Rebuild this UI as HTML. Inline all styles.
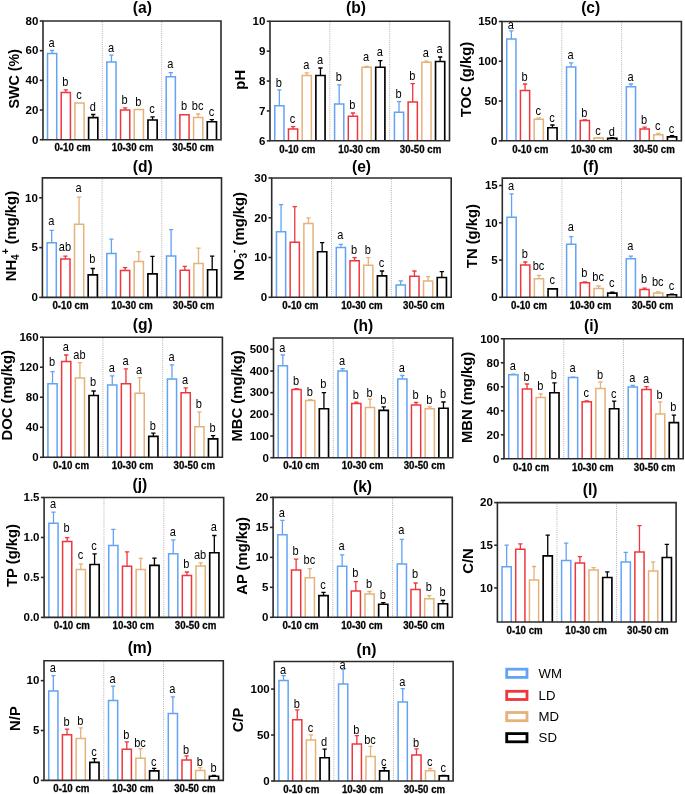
<!DOCTYPE html>
<html><head><meta charset="utf-8"><style>
html,body{margin:0;padding:0;background:#fff;}
svg{display:block;will-change:transform;}
text{font-family:"Liberation Sans",sans-serif;fill:#000;}
.let{font-size:12px;text-anchor:middle;}
.tk{font-size:11.5px;font-weight:bold;text-anchor:end;}
.xl{font-size:9.7px;font-weight:bold;text-anchor:middle;stroke:#000;stroke-width:0.25px;}
.ti{font-size:15.6px;font-weight:bold;text-anchor:middle;}
.yl{font-size:14.8px;font-weight:bold;text-anchor:middle;}
.lg{font-size:13.2px;}
.ax{stroke:#2b2b2b;stroke-width:1.6;fill:none;stroke-linecap:square;}
.sep{stroke:#9a9a9a;stroke-width:0.8;stroke-dasharray:1 1.2;}
</style></head><body>
<svg width="685" height="794" viewBox="0 0 685 794">
<rect width="685" height="794" fill="#fff"/>
<line x1="102.33" y1="22" x2="102.33" y2="138.7" class="sep"/>
<line x1="161.67" y1="22" x2="161.67" y2="138.7" class="sep"/>
<path d="M52.12 53.4V50.5M49.97 50.5H54.27" stroke="#62A3F5" stroke-width="1.3" fill="none"/>
<path d="M47.52 139.7V53.4H56.72V139.7" stroke="#62A3F5" stroke-width="1.5" fill="#fff"/>
<text transform="translate(51.62 46.9) scale(0.92 1)" class="let">a</text>
<path d="M65.82 92.6V89.8M63.67 89.8H67.97" stroke="#EE373C" stroke-width="1.3" fill="none"/>
<path d="M61.22 139.7V92.6H70.42V139.7" stroke="#EE373C" stroke-width="1.5" fill="#fff"/>
<text transform="translate(65.32 86.2) scale(0.92 1)" class="let">b</text>
<path d="M74.92 139.7V102.9H84.12V139.7" stroke="#E5B27A" stroke-width="1.5" fill="#fff"/>
<text transform="translate(79.02 99.3) scale(0.92 1)" class="let">c</text>
<path d="M93.22 117.6V114.5M91.07 114.5H95.37" stroke="#000000" stroke-width="1.3" fill="none"/>
<path d="M88.62 139.7V117.6H97.82V139.7" stroke="#000000" stroke-width="1.65" fill="#fff"/>
<text transform="translate(92.72 111.2) scale(0.92 1)" class="let">d</text>
<path d="M111.45 61.9V55.1M109.3 55.1H113.6" stroke="#62A3F5" stroke-width="1.3" fill="none"/>
<path d="M106.85 139.7V61.9H116.05V139.7" stroke="#62A3F5" stroke-width="1.5" fill="#fff"/>
<text transform="translate(110.95 51.8) scale(0.92 1)" class="let">a</text>
<path d="M125.15 109.9V107.8M123 107.8H127.3" stroke="#EE373C" stroke-width="1.3" fill="none"/>
<path d="M120.55 139.7V109.9H129.75V139.7" stroke="#EE373C" stroke-width="1.5" fill="#fff"/>
<text transform="translate(124.65 103.9) scale(0.92 1)" class="let">b</text>
<path d="M134.25 139.7V109.4H143.45V139.7" stroke="#E5B27A" stroke-width="1.5" fill="#fff"/>
<text transform="translate(138.35 105.8) scale(0.92 1)" class="let">b</text>
<path d="M152.55 120V116.8M150.4 116.8H154.7" stroke="#000000" stroke-width="1.3" fill="none"/>
<path d="M147.95 139.7V120H157.15V139.7" stroke="#000000" stroke-width="1.65" fill="#fff"/>
<text transform="translate(152.05 113.2) scale(0.92 1)" class="let">c</text>
<path d="M170.78 76.7V72.6M168.63 72.6H172.93" stroke="#62A3F5" stroke-width="1.3" fill="none"/>
<path d="M166.18 139.7V76.7H175.38V139.7" stroke="#62A3F5" stroke-width="1.5" fill="#fff"/>
<text transform="translate(170.28 67.5) scale(0.92 1)" class="let">a</text>
<path d="M179.88 139.7V114.8H189.08V139.7" stroke="#EE373C" stroke-width="1.5" fill="#fff"/>
<text transform="translate(183.98 110.4) scale(0.92 1)" class="let">b</text>
<path d="M198.18 117.6V114M196.03 114H200.33" stroke="#E5B27A" stroke-width="1.3" fill="none"/>
<path d="M193.58 139.7V117.6H202.78V139.7" stroke="#E5B27A" stroke-width="1.5" fill="#fff"/>
<text transform="translate(197.68 110.4) scale(0.92 1)" class="let">bc</text>
<path d="M211.88 121.7V119.6M209.73 119.6H214.03" stroke="#000000" stroke-width="1.3" fill="none"/>
<path d="M207.28 139.7V121.7H216.48V139.7" stroke="#000000" stroke-width="1.65" fill="#fff"/>
<text transform="translate(211.38 116.2) scale(0.92 1)" class="let">c</text>
<path d="M43 21H221V139.7H43Z" class="ax"/>
<line x1="39.8" y1="139.7" x2="43" y2="139.7" class="ax" style="stroke-linecap:butt"/>
<text x="38.4" y="143.5" class="tk">0</text>
<line x1="39.8" y1="110.02" x2="43" y2="110.02" class="ax" style="stroke-linecap:butt"/>
<text x="38.4" y="113.82" class="tk">20</text>
<line x1="39.8" y1="80.35" x2="43" y2="80.35" class="ax" style="stroke-linecap:butt"/>
<text x="38.4" y="84.15" class="tk">40</text>
<line x1="39.8" y1="50.67" x2="43" y2="50.67" class="ax" style="stroke-linecap:butt"/>
<text x="38.4" y="54.47" class="tk">60</text>
<line x1="39.8" y1="21" x2="43" y2="21" class="ax" style="stroke-linecap:butt"/>
<text x="38.4" y="24.8" class="tk">80</text>
<text transform="translate(72.5 151.4) scale(1 1.05)" class="xl">0-10 cm</text>
<text transform="translate(132.5 151.4) scale(1 1.05)" class="xl">10-30 cm</text>
<text transform="translate(193 151.4) scale(1 1.05)" class="xl">30-50 cm</text>
<text x="142.3" y="12.7" class="ti">(a)</text>
<text transform="translate(19.05 78.8) rotate(-90)" x="0" y="0" class="yl" style="font-size:14.3px">SWC (%)</text>
<line x1="329.83" y1="22.3" x2="329.83" y2="139.8" class="sep"/>
<line x1="389.67" y1="22.3" x2="389.67" y2="139.8" class="sep"/>
<path d="M279.37 105.8V89.8M277.22 89.8H281.52" stroke="#62A3F5" stroke-width="1.3" fill="none"/>
<path d="M274.77 140.8V105.8H283.97V140.8" stroke="#62A3F5" stroke-width="1.5" fill="#fff"/>
<text transform="translate(278.87 86.7) scale(0.92 1)" class="let">b</text>
<path d="M293.07 129V126.6M290.92 126.6H295.22" stroke="#EE373C" stroke-width="1.3" fill="none"/>
<path d="M288.47 140.8V129H297.67V140.8" stroke="#EE373C" stroke-width="1.5" fill="#fff"/>
<text transform="translate(292.57 122.7) scale(0.92 1)" class="let">c</text>
<path d="M306.77 75.5V72.9M304.62 72.9H308.92" stroke="#E5B27A" stroke-width="1.3" fill="none"/>
<path d="M302.17 140.8V75.5H311.37V140.8" stroke="#E5B27A" stroke-width="1.5" fill="#fff"/>
<text transform="translate(306.27 69.2) scale(0.92 1)" class="let">a</text>
<path d="M320.47 75.5V68M318.32 68H322.62" stroke="#000000" stroke-width="1.3" fill="none"/>
<path d="M315.87 140.8V75.5H325.07V140.8" stroke="#000000" stroke-width="1.65" fill="#fff"/>
<text transform="translate(319.97 64.3) scale(0.92 1)" class="let">a</text>
<path d="M339.2 104V84.9M337.05 84.9H341.35" stroke="#62A3F5" stroke-width="1.3" fill="none"/>
<path d="M334.6 140.8V104H343.8V140.8" stroke="#62A3F5" stroke-width="1.5" fill="#fff"/>
<text transform="translate(338.7 81) scale(0.92 1)" class="let">b</text>
<path d="M352.9 116.3V113M350.75 113H355.05" stroke="#EE373C" stroke-width="1.3" fill="none"/>
<path d="M348.3 140.8V116.3H357.5V140.8" stroke="#EE373C" stroke-width="1.5" fill="#fff"/>
<text transform="translate(352.4 108.8) scale(0.92 1)" class="let">b</text>
<path d="M366.6 67.2V66.5M364.45 66.5H368.75" stroke="#E5B27A" stroke-width="1.3" fill="none"/>
<path d="M362 140.8V67.2H371.2V140.8" stroke="#E5B27A" stroke-width="1.5" fill="#fff"/>
<text transform="translate(366.1 61.3) scale(0.92 1)" class="let">a</text>
<path d="M380.3 67.2V60.6M378.15 60.6H382.45" stroke="#000000" stroke-width="1.3" fill="none"/>
<path d="M375.7 140.8V67.2H384.9V140.8" stroke="#000000" stroke-width="1.65" fill="#fff"/>
<text transform="translate(379.8 56.4) scale(0.92 1)" class="let">a</text>
<path d="M399.03 112.2V101.7M396.88 101.7H401.18" stroke="#62A3F5" stroke-width="1.3" fill="none"/>
<path d="M394.43 140.8V112.2H403.63V140.8" stroke="#62A3F5" stroke-width="1.5" fill="#fff"/>
<text transform="translate(398.53 97.8) scale(0.92 1)" class="let">b</text>
<path d="M412.73 102V83.7M410.58 83.7H414.88" stroke="#EE373C" stroke-width="1.3" fill="none"/>
<path d="M408.13 140.8V102H417.33V140.8" stroke="#EE373C" stroke-width="1.5" fill="#fff"/>
<text transform="translate(412.23 79.8) scale(0.92 1)" class="let">b</text>
<path d="M426.43 62.3V61.1M424.28 61.1H428.58" stroke="#E5B27A" stroke-width="1.3" fill="none"/>
<path d="M421.83 140.8V62.3H431.03V140.8" stroke="#E5B27A" stroke-width="1.5" fill="#fff"/>
<text transform="translate(425.93 56.9) scale(0.92 1)" class="let">a</text>
<path d="M440.13 61.5V57M437.98 57H442.28" stroke="#000000" stroke-width="1.3" fill="none"/>
<path d="M435.53 140.8V61.5H444.73V140.8" stroke="#000000" stroke-width="1.65" fill="#fff"/>
<text transform="translate(439.63 52.8) scale(0.92 1)" class="let">a</text>
<path d="M270 21.3H449.5V140.8H270Z" class="ax"/>
<line x1="266.8" y1="140.8" x2="270" y2="140.8" class="ax" style="stroke-linecap:butt"/>
<text x="265.4" y="144.6" class="tk">6</text>
<line x1="266.8" y1="110.93" x2="270" y2="110.93" class="ax" style="stroke-linecap:butt"/>
<text x="265.4" y="114.73" class="tk">7</text>
<line x1="266.8" y1="81.05" x2="270" y2="81.05" class="ax" style="stroke-linecap:butt"/>
<text x="265.4" y="84.85" class="tk">8</text>
<line x1="266.8" y1="51.17" x2="270" y2="51.17" class="ax" style="stroke-linecap:butt"/>
<text x="265.4" y="54.97" class="tk">9</text>
<line x1="266.8" y1="21.3" x2="270" y2="21.3" class="ax" style="stroke-linecap:butt"/>
<text x="265.4" y="25.1" class="tk">10</text>
<text transform="translate(297.4 152.5) scale(1 1.05)" class="xl">0-10 cm</text>
<text transform="translate(359.1 152.5) scale(1 1.05)" class="xl">10-30 cm</text>
<text transform="translate(420.6 152.5) scale(1 1.05)" class="xl">30-50 cm</text>
<text x="355.9" y="12.7" class="ti">(b)</text>
<text transform="translate(244.9 79.77) rotate(-90)" x="0" y="0" class="yl">pH</text>
<line x1="561.8" y1="22.5" x2="561.8" y2="139.8" class="sep"/>
<line x1="621.6" y1="22.5" x2="621.6" y2="139.8" class="sep"/>
<path d="M511.35 38.9V30.8M509.2 30.8H513.5" stroke="#62A3F5" stroke-width="1.3" fill="none"/>
<path d="M506.75 140.8V38.9H515.95V140.8" stroke="#62A3F5" stroke-width="1.5" fill="#fff"/>
<text transform="translate(510.85 29) scale(0.92 1)" class="let">a</text>
<path d="M525.05 90.6V84M522.9 84H527.2" stroke="#EE373C" stroke-width="1.3" fill="none"/>
<path d="M520.45 140.8V90.6H529.65V140.8" stroke="#EE373C" stroke-width="1.5" fill="#fff"/>
<text transform="translate(524.55 81) scale(0.92 1)" class="let">b</text>
<path d="M538.75 119.2V117.9M536.6 117.9H540.9" stroke="#E5B27A" stroke-width="1.3" fill="none"/>
<path d="M534.15 140.8V119.2H543.35V140.8" stroke="#E5B27A" stroke-width="1.5" fill="#fff"/>
<text transform="translate(538.25 114.8) scale(0.92 1)" class="let">c</text>
<path d="M552.45 127.7V125M550.3 125H554.6" stroke="#000000" stroke-width="1.3" fill="none"/>
<path d="M547.85 140.8V127.7H557.05V140.8" stroke="#000000" stroke-width="1.65" fill="#fff"/>
<text transform="translate(551.95 121.6) scale(0.92 1)" class="let">c</text>
<path d="M571.15 66.9V62.8M569 62.8H573.3" stroke="#62A3F5" stroke-width="1.3" fill="none"/>
<path d="M566.55 140.8V66.9H575.75V140.8" stroke="#62A3F5" stroke-width="1.5" fill="#fff"/>
<text transform="translate(570.65 58.9) scale(0.92 1)" class="let">a</text>
<path d="M584.85 120.5V120M582.7 120H587" stroke="#EE373C" stroke-width="1.3" fill="none"/>
<path d="M580.25 140.8V120.5H589.45V140.8" stroke="#EE373C" stroke-width="1.5" fill="#fff"/>
<text transform="translate(584.35 116.6) scale(0.92 1)" class="let">b</text>
<path d="M598.55 138V137.6M596.4 137.6H600.7" stroke="#E5B27A" stroke-width="1.3" fill="none"/>
<path d="M593.95 140.8V138H603.15V140.8" stroke="#E5B27A" stroke-width="1.5" fill="#fff"/>
<text transform="translate(598.05 134.5) scale(0.92 1)" class="let">c</text>
<path d="M612.25 138.4V137.7M610.1 137.7H614.4" stroke="#000000" stroke-width="1.3" fill="none"/>
<path d="M607.65 140.8V138.4H616.85V140.8" stroke="#000000" stroke-width="1.65" fill="#fff"/>
<text transform="translate(611.75 135.5) scale(0.92 1)" class="let">d</text>
<path d="M630.95 86.8V84M628.8 84H633.1" stroke="#62A3F5" stroke-width="1.3" fill="none"/>
<path d="M626.35 140.8V86.8H635.55V140.8" stroke="#62A3F5" stroke-width="1.5" fill="#fff"/>
<text transform="translate(630.45 81) scale(0.92 1)" class="let">a</text>
<path d="M644.65 129V127.1M642.5 127.1H646.8" stroke="#EE373C" stroke-width="1.3" fill="none"/>
<path d="M640.05 140.8V129H649.25V140.8" stroke="#EE373C" stroke-width="1.5" fill="#fff"/>
<text transform="translate(644.15 123.5) scale(0.92 1)" class="let">b</text>
<path d="M658.35 134.8V133.5M656.2 133.5H660.5" stroke="#E5B27A" stroke-width="1.3" fill="none"/>
<path d="M653.75 140.8V134.8H662.95V140.8" stroke="#E5B27A" stroke-width="1.5" fill="#fff"/>
<text transform="translate(657.85 130.1) scale(0.92 1)" class="let">c</text>
<path d="M672.05 136.9V135.7M669.9 135.7H674.2" stroke="#000000" stroke-width="1.3" fill="none"/>
<path d="M667.45 140.8V136.9H676.65V140.8" stroke="#000000" stroke-width="1.65" fill="#fff"/>
<text transform="translate(671.55 132.5) scale(0.92 1)" class="let">c</text>
<path d="M502 21.5H681.4V140.8H502Z" class="ax"/>
<line x1="498.8" y1="140.8" x2="502" y2="140.8" class="ax" style="stroke-linecap:butt"/>
<text x="497.4" y="144.6" class="tk">0</text>
<line x1="498.8" y1="101.03" x2="502" y2="101.03" class="ax" style="stroke-linecap:butt"/>
<text x="497.4" y="104.83" class="tk">50</text>
<line x1="498.8" y1="61.27" x2="502" y2="61.27" class="ax" style="stroke-linecap:butt"/>
<text x="497.4" y="65.07" class="tk">100</text>
<line x1="498.8" y1="21.5" x2="502" y2="21.5" class="ax" style="stroke-linecap:butt"/>
<text x="497.4" y="25.3" class="tk">150</text>
<text transform="translate(530.3 152.5) scale(1 1.05)" class="xl">0-10 cm</text>
<text transform="translate(591.7 152.5) scale(1 1.05)" class="xl">10-30 cm</text>
<text transform="translate(654 152.5) scale(1 1.05)" class="xl">30-50 cm</text>
<text x="590.7" y="12.7" class="ti">(c)</text>
<text transform="translate(470.6 79.5) rotate(-90)" x="0" y="0" class="yl">TOC (g/kg)</text>
<line x1="102.1" y1="178.9" x2="102.1" y2="296.4" class="sep"/>
<line x1="161.8" y1="178.9" x2="161.8" y2="296.4" class="sep"/>
<path d="M51.7 242.7V230.4M49.55 230.4H53.85" stroke="#62A3F5" stroke-width="1.3" fill="none"/>
<path d="M47.1 297.4V242.7H56.3V297.4" stroke="#62A3F5" stroke-width="1.5" fill="#fff"/>
<text transform="translate(51.2 224.5) scale(0.92 1)" class="let">a</text>
<path d="M65.4 259V256.1M63.25 256.1H67.55" stroke="#EE373C" stroke-width="1.3" fill="none"/>
<path d="M60.8 297.4V259H70V297.4" stroke="#EE373C" stroke-width="1.5" fill="#fff"/>
<text transform="translate(64.9 250.7) scale(0.92 1)" class="let">ab</text>
<path d="M79.1 224.3V197.2M76.95 197.2H81.25" stroke="#E5B27A" stroke-width="1.3" fill="none"/>
<path d="M74.5 297.4V224.3H83.7V297.4" stroke="#E5B27A" stroke-width="1.5" fill="#fff"/>
<text transform="translate(78.6 191.6) scale(0.92 1)" class="let">a</text>
<path d="M92.8 274.9V268.5M90.65 268.5H94.95" stroke="#000000" stroke-width="1.3" fill="none"/>
<path d="M88.2 297.4V274.9H97.4V297.4" stroke="#000000" stroke-width="1.65" fill="#fff"/>
<text transform="translate(92.3 263.3) scale(0.92 1)" class="let">b</text>
<path d="M111.4 253.6V239.1M109.25 239.1H113.55" stroke="#62A3F5" stroke-width="1.3" fill="none"/>
<path d="M106.8 297.4V253.6H116V297.4" stroke="#62A3F5" stroke-width="1.5" fill="#fff"/>
<path d="M125.1 270.5V267.6M122.95 267.6H127.25" stroke="#EE373C" stroke-width="1.3" fill="none"/>
<path d="M120.5 297.4V270.5H129.7V297.4" stroke="#EE373C" stroke-width="1.5" fill="#fff"/>
<path d="M138.8 261.5V251.7M136.65 251.7H140.95" stroke="#E5B27A" stroke-width="1.3" fill="none"/>
<path d="M134.2 297.4V261.5H143.4V297.4" stroke="#E5B27A" stroke-width="1.5" fill="#fff"/>
<path d="M152.5 273.8V256.3M150.35 256.3H154.65" stroke="#000000" stroke-width="1.3" fill="none"/>
<path d="M147.9 297.4V273.8H157.1V297.4" stroke="#000000" stroke-width="1.65" fill="#fff"/>
<path d="M171.1 256.1V229.6M168.95 229.6H173.25" stroke="#62A3F5" stroke-width="1.3" fill="none"/>
<path d="M166.5 297.4V256.1H175.7V297.4" stroke="#62A3F5" stroke-width="1.5" fill="#fff"/>
<path d="M184.8 270.2V266.4M182.65 266.4H186.95" stroke="#EE373C" stroke-width="1.3" fill="none"/>
<path d="M180.2 297.4V270.2H189.4V297.4" stroke="#EE373C" stroke-width="1.5" fill="#fff"/>
<path d="M198.5 263.6V248.1M196.35 248.1H200.65" stroke="#E5B27A" stroke-width="1.3" fill="none"/>
<path d="M193.9 297.4V263.6H203.1V297.4" stroke="#E5B27A" stroke-width="1.5" fill="#fff"/>
<path d="M212.2 269.7V256.1M210.05 256.1H214.35" stroke="#000000" stroke-width="1.3" fill="none"/>
<path d="M207.6 297.4V269.7H216.8V297.4" stroke="#000000" stroke-width="1.65" fill="#fff"/>
<path d="M42.4 177.9H221.5V297.4H42.4Z" class="ax"/>
<line x1="39.2" y1="297.4" x2="42.4" y2="297.4" class="ax" style="stroke-linecap:butt"/>
<text x="37.8" y="301.2" class="tk">0</text>
<line x1="39.2" y1="247.61" x2="42.4" y2="247.61" class="ax" style="stroke-linecap:butt"/>
<text x="37.8" y="251.41" class="tk">5</text>
<line x1="39.2" y1="197.82" x2="42.4" y2="197.82" class="ax" style="stroke-linecap:butt"/>
<text x="37.8" y="201.62" class="tk">10</text>
<text transform="translate(70.5 309.1) scale(1 1.05)" class="xl">0-10 cm</text>
<text transform="translate(132 309.1) scale(1 1.05)" class="xl">10-30 cm</text>
<text transform="translate(193.6 309.1) scale(1 1.05)" class="xl">30-50 cm</text>
<text x="142.8" y="171.6" class="ti">(d)</text>
<text transform="translate(15.7 236.1) rotate(-90)" x="0" y="0" class="yl">NH<tspan font-size="10" dy="3">4</tspan><tspan font-size="10" dy="-10">+</tspan><tspan dy="7"> (mg/kg)</tspan></text>
<line x1="331.53" y1="179" x2="331.53" y2="296.3" class="sep"/>
<line x1="391.37" y1="179" x2="391.37" y2="296.3" class="sep"/>
<path d="M281.07 231.7V204.7M278.92 204.7H283.22" stroke="#62A3F5" stroke-width="1.3" fill="none"/>
<path d="M276.47 297.3V231.7H285.67V297.3" stroke="#62A3F5" stroke-width="1.5" fill="#fff"/>
<path d="M294.77 242.3V206.7M292.62 206.7H296.92" stroke="#EE373C" stroke-width="1.3" fill="none"/>
<path d="M290.17 297.3V242.3H299.37V297.3" stroke="#EE373C" stroke-width="1.5" fill="#fff"/>
<path d="M308.47 223.4V217.8M306.32 217.8H310.62" stroke="#E5B27A" stroke-width="1.3" fill="none"/>
<path d="M303.87 297.3V223.4H313.07V297.3" stroke="#E5B27A" stroke-width="1.5" fill="#fff"/>
<path d="M322.17 251.7V242.7M320.02 242.7H324.32" stroke="#000000" stroke-width="1.3" fill="none"/>
<path d="M317.57 297.3V251.7H326.77V297.3" stroke="#000000" stroke-width="1.65" fill="#fff"/>
<path d="M340.9 247.6V244.3M338.75 244.3H343.05" stroke="#62A3F5" stroke-width="1.3" fill="none"/>
<path d="M336.3 297.3V247.6H345.5V297.3" stroke="#62A3F5" stroke-width="1.5" fill="#fff"/>
<text transform="translate(340.4 239.3) scale(0.92 1)" class="let">a</text>
<path d="M354.6 260.7V257.7M352.45 257.7H356.75" stroke="#EE373C" stroke-width="1.3" fill="none"/>
<path d="M350 297.3V260.7H359.2V297.3" stroke="#EE373C" stroke-width="1.5" fill="#fff"/>
<text transform="translate(354.1 254) scale(0.92 1)" class="let">b</text>
<path d="M368.3 265.3V257.7M366.15 257.7H370.45" stroke="#E5B27A" stroke-width="1.3" fill="none"/>
<path d="M363.7 297.3V265.3H372.9V297.3" stroke="#E5B27A" stroke-width="1.5" fill="#fff"/>
<text transform="translate(367.8 253.5) scale(0.92 1)" class="let">b</text>
<path d="M382 275.9V271M379.85 271H384.15" stroke="#000000" stroke-width="1.3" fill="none"/>
<path d="M377.4 297.3V275.9H386.6V297.3" stroke="#000000" stroke-width="1.65" fill="#fff"/>
<text transform="translate(381.5 266.6) scale(0.92 1)" class="let">c</text>
<path d="M400.73 284.9V280.8M398.58 280.8H402.88" stroke="#62A3F5" stroke-width="1.3" fill="none"/>
<path d="M396.13 297.3V284.9H405.33V297.3" stroke="#62A3F5" stroke-width="1.5" fill="#fff"/>
<path d="M414.43 276.2V271M412.28 271H416.58" stroke="#EE373C" stroke-width="1.3" fill="none"/>
<path d="M409.83 297.3V276.2H419.03V297.3" stroke="#EE373C" stroke-width="1.5" fill="#fff"/>
<path d="M428.13 281.1V276.6M425.98 276.6H430.28" stroke="#E5B27A" stroke-width="1.3" fill="none"/>
<path d="M423.53 297.3V281.1H432.73V297.3" stroke="#E5B27A" stroke-width="1.5" fill="#fff"/>
<path d="M441.83 277.5V271.6M439.68 271.6H443.98" stroke="#000000" stroke-width="1.3" fill="none"/>
<path d="M437.23 297.3V277.5H446.43V297.3" stroke="#000000" stroke-width="1.65" fill="#fff"/>
<path d="M271.7 178H451.2V297.3H271.7Z" class="ax"/>
<line x1="268.5" y1="297.3" x2="271.7" y2="297.3" class="ax" style="stroke-linecap:butt"/>
<text x="267.1" y="301.1" class="tk">0</text>
<line x1="268.5" y1="257.53" x2="271.7" y2="257.53" class="ax" style="stroke-linecap:butt"/>
<text x="267.1" y="261.33" class="tk">10</text>
<line x1="268.5" y1="217.77" x2="271.7" y2="217.77" class="ax" style="stroke-linecap:butt"/>
<text x="267.1" y="221.57" class="tk">20</text>
<line x1="268.5" y1="178" x2="271.7" y2="178" class="ax" style="stroke-linecap:butt"/>
<text x="267.1" y="181.8" class="tk">30</text>
<text transform="translate(300.4 309) scale(1 1.05)" class="xl">0-10 cm</text>
<text transform="translate(361.9 309) scale(1 1.05)" class="xl">10-30 cm</text>
<text transform="translate(423.8 309) scale(1 1.05)" class="xl">30-50 cm</text>
<text x="361.5" y="171.6" class="ti">(e)</text>
<text transform="translate(243.7 236.35) rotate(-90)" x="0" y="0" class="yl">NO<tspan font-size="10" dy="3">3</tspan><tspan font-size="10" dy="-10">-</tspan><tspan dy="7"> (mg/kg)</tspan></text>
<line x1="561.93" y1="179.1" x2="561.93" y2="296.3" class="sep"/>
<line x1="621.57" y1="179.1" x2="621.57" y2="296.3" class="sep"/>
<path d="M511.57 217.3V193.9M509.42 193.9H513.72" stroke="#62A3F5" stroke-width="1.3" fill="none"/>
<path d="M506.97 297.3V217.3H516.17V297.3" stroke="#62A3F5" stroke-width="1.5" fill="#fff"/>
<text transform="translate(511.07 190) scale(0.92 1)" class="let">a</text>
<path d="M525.27 265.1V262M523.12 262H527.42" stroke="#EE373C" stroke-width="1.3" fill="none"/>
<path d="M520.67 297.3V265.1H529.87V297.3" stroke="#EE373C" stroke-width="1.5" fill="#fff"/>
<text transform="translate(524.77 258.4) scale(0.92 1)" class="let">b</text>
<path d="M538.97 278.7V275.4M536.82 275.4H541.12" stroke="#E5B27A" stroke-width="1.3" fill="none"/>
<path d="M534.37 297.3V278.7H543.57V297.3" stroke="#E5B27A" stroke-width="1.5" fill="#fff"/>
<text transform="translate(538.47 270.2) scale(0.92 1)" class="let">bc</text>
<path d="M548.07 297.3V288.8H557.27V297.3" stroke="#000000" stroke-width="1.65" fill="#fff"/>
<text transform="translate(552.17 284.3) scale(0.92 1)" class="let">c</text>
<path d="M571.2 244.3V236.6M569.05 236.6H573.35" stroke="#62A3F5" stroke-width="1.3" fill="none"/>
<path d="M566.6 297.3V244.3H575.8V297.3" stroke="#62A3F5" stroke-width="1.5" fill="#fff"/>
<text transform="translate(570.7 231.1) scale(0.92 1)" class="let">a</text>
<path d="M584.9 282.8V282M582.75 282H587.05" stroke="#EE373C" stroke-width="1.3" fill="none"/>
<path d="M580.3 297.3V282.8H589.5V297.3" stroke="#EE373C" stroke-width="1.5" fill="#fff"/>
<text transform="translate(584.4 277.2) scale(0.92 1)" class="let">b</text>
<path d="M598.6 288.5V286M596.45 286H600.75" stroke="#E5B27A" stroke-width="1.3" fill="none"/>
<path d="M594 297.3V288.5H603.2V297.3" stroke="#E5B27A" stroke-width="1.5" fill="#fff"/>
<text transform="translate(598.1 281) scale(0.92 1)" class="let">bc</text>
<path d="M612.3 293.1V292.1M610.15 292.1H614.45" stroke="#000000" stroke-width="1.3" fill="none"/>
<path d="M607.7 297.3V293.1H616.9V297.3" stroke="#000000" stroke-width="1.65" fill="#fff"/>
<text transform="translate(611.8 287.1) scale(0.92 1)" class="let">c</text>
<path d="M630.83 258.7V256.1M628.68 256.1H632.98" stroke="#62A3F5" stroke-width="1.3" fill="none"/>
<path d="M626.23 297.3V258.7H635.43V297.3" stroke="#62A3F5" stroke-width="1.5" fill="#fff"/>
<text transform="translate(630.33 250.2) scale(0.92 1)" class="let">a</text>
<path d="M644.53 289.6V288.2M642.38 288.2H646.68" stroke="#EE373C" stroke-width="1.3" fill="none"/>
<path d="M639.93 297.3V289.6H649.13V297.3" stroke="#EE373C" stroke-width="1.5" fill="#fff"/>
<text transform="translate(644.03 283.3) scale(0.92 1)" class="let">b</text>
<path d="M658.23 292.9V291.8M656.08 291.8H660.38" stroke="#E5B27A" stroke-width="1.3" fill="none"/>
<path d="M653.63 297.3V292.9H662.83V297.3" stroke="#E5B27A" stroke-width="1.5" fill="#fff"/>
<text transform="translate(657.73 286.2) scale(0.92 1)" class="let">bc</text>
<path d="M671.93 294.7V294.2M669.78 294.2H674.08" stroke="#000000" stroke-width="1.3" fill="none"/>
<path d="M667.33 297.3V294.7H676.53V297.3" stroke="#000000" stroke-width="1.65" fill="#fff"/>
<text transform="translate(671.43 289.5) scale(0.92 1)" class="let">c</text>
<path d="M502.3 178.1H681.2V297.3H502.3Z" class="ax"/>
<line x1="499.1" y1="297.3" x2="502.3" y2="297.3" class="ax" style="stroke-linecap:butt"/>
<text x="497.7" y="301.1" class="tk">0</text>
<line x1="499.1" y1="260.05" x2="502.3" y2="260.05" class="ax" style="stroke-linecap:butt"/>
<text x="497.7" y="263.85" class="tk">5</text>
<line x1="499.1" y1="222.8" x2="502.3" y2="222.8" class="ax" style="stroke-linecap:butt"/>
<text x="497.7" y="226.6" class="tk">10</text>
<line x1="499.1" y1="185.55" x2="502.3" y2="185.55" class="ax" style="stroke-linecap:butt"/>
<text x="497.7" y="189.35" class="tk">15</text>
<text transform="translate(529.1 309) scale(1 1.05)" class="xl">0-10 cm</text>
<text transform="translate(590.5 309) scale(1 1.05)" class="xl">10-30 cm</text>
<text transform="translate(652.5 309) scale(1 1.05)" class="xl">30-50 cm</text>
<text x="590.9" y="171.6" class="ti">(f)</text>
<text transform="translate(477.1 236.1) rotate(-90)" x="0" y="0" class="yl">TN (g/kg)</text>
<line x1="102.93" y1="338.2" x2="102.93" y2="456.3" class="sep"/>
<line x1="162.67" y1="338.2" x2="162.67" y2="456.3" class="sep"/>
<path d="M52.52 383.7V371.7M50.37 371.7H54.67" stroke="#62A3F5" stroke-width="1.3" fill="none"/>
<path d="M47.92 457.3V383.7H57.12V457.3" stroke="#62A3F5" stroke-width="1.5" fill="#fff"/>
<text transform="translate(52.02 366.4) scale(0.92 1)" class="let">b</text>
<path d="M66.22 361.6V355M64.07 355H68.37" stroke="#EE373C" stroke-width="1.3" fill="none"/>
<path d="M61.62 457.3V361.6H70.82V457.3" stroke="#EE373C" stroke-width="1.5" fill="#fff"/>
<text transform="translate(65.72 351.1) scale(0.92 1)" class="let">a</text>
<path d="M79.92 377.9V362.7M77.77 362.7H82.07" stroke="#E5B27A" stroke-width="1.3" fill="none"/>
<path d="M75.32 457.3V377.9H84.52V457.3" stroke="#E5B27A" stroke-width="1.5" fill="#fff"/>
<text transform="translate(79.42 359) scale(0.92 1)" class="let">ab</text>
<path d="M93.62 395.5V391M91.47 391H95.77" stroke="#000000" stroke-width="1.3" fill="none"/>
<path d="M89.02 457.3V395.5H98.22V457.3" stroke="#000000" stroke-width="1.65" fill="#fff"/>
<text transform="translate(93.12 386) scale(0.92 1)" class="let">b</text>
<path d="M112.25 385V375.8M110.1 375.8H114.4" stroke="#62A3F5" stroke-width="1.3" fill="none"/>
<path d="M107.65 457.3V385H116.85V457.3" stroke="#62A3F5" stroke-width="1.5" fill="#fff"/>
<text transform="translate(111.75 371.6) scale(0.92 1)" class="let">a</text>
<path d="M125.95 383.7V368.9M123.8 368.9H128.1" stroke="#EE373C" stroke-width="1.3" fill="none"/>
<path d="M121.35 457.3V383.7H130.55V457.3" stroke="#EE373C" stroke-width="1.5" fill="#fff"/>
<text transform="translate(125.45 365.1) scale(0.92 1)" class="let">a</text>
<path d="M139.65 393.2V377.6M137.5 377.6H141.8" stroke="#E5B27A" stroke-width="1.3" fill="none"/>
<path d="M135.05 457.3V393.2H144.25V457.3" stroke="#E5B27A" stroke-width="1.5" fill="#fff"/>
<text transform="translate(139.15 373.7) scale(0.92 1)" class="let">a</text>
<path d="M153.35 436.4V433.1M151.2 433.1H155.5" stroke="#000000" stroke-width="1.3" fill="none"/>
<path d="M148.75 457.3V436.4H157.95V457.3" stroke="#000000" stroke-width="1.65" fill="#fff"/>
<text transform="translate(152.85 429.7) scale(0.92 1)" class="let">b</text>
<path d="M171.98 379.1V364.9M169.83 364.9H174.13" stroke="#62A3F5" stroke-width="1.3" fill="none"/>
<path d="M167.38 457.3V379.1H176.58V457.3" stroke="#62A3F5" stroke-width="1.5" fill="#fff"/>
<text transform="translate(171.48 361) scale(0.92 1)" class="let">a</text>
<path d="M185.68 392.7V387.8M183.53 387.8H187.83" stroke="#EE373C" stroke-width="1.3" fill="none"/>
<path d="M181.08 457.3V392.7H190.28V457.3" stroke="#EE373C" stroke-width="1.5" fill="#fff"/>
<text transform="translate(185.18 383.9) scale(0.92 1)" class="let">a</text>
<path d="M199.38 426.7V411.8M197.23 411.8H201.53" stroke="#E5B27A" stroke-width="1.3" fill="none"/>
<path d="M194.78 457.3V426.7H203.98V457.3" stroke="#E5B27A" stroke-width="1.5" fill="#fff"/>
<text transform="translate(198.88 407.9) scale(0.92 1)" class="let">b</text>
<path d="M213.08 438.8V435.6M210.93 435.6H215.23" stroke="#000000" stroke-width="1.3" fill="none"/>
<path d="M208.48 457.3V438.8H217.68V457.3" stroke="#000000" stroke-width="1.65" fill="#fff"/>
<text transform="translate(212.58 431.7) scale(0.92 1)" class="let">b</text>
<path d="M43.2 337.2H222.4V457.3H43.2Z" class="ax"/>
<line x1="40" y1="457.3" x2="43.2" y2="457.3" class="ax" style="stroke-linecap:butt"/>
<text x="38.6" y="461.1" class="tk">0</text>
<line x1="40" y1="427.27" x2="43.2" y2="427.27" class="ax" style="stroke-linecap:butt"/>
<text x="38.6" y="431.07" class="tk">40</text>
<line x1="40" y1="397.25" x2="43.2" y2="397.25" class="ax" style="stroke-linecap:butt"/>
<text x="38.6" y="401.05" class="tk">80</text>
<line x1="40" y1="367.23" x2="43.2" y2="367.23" class="ax" style="stroke-linecap:butt"/>
<text x="38.6" y="371.03" class="tk">120</text>
<line x1="40" y1="337.2" x2="43.2" y2="337.2" class="ax" style="stroke-linecap:butt"/>
<text x="38.6" y="341" class="tk">160</text>
<text transform="translate(71.05 469) scale(1 1.05)" class="xl">0-10 cm</text>
<text transform="translate(132.5 469) scale(1 1.05)" class="xl">10-30 cm</text>
<text transform="translate(194.25 469) scale(1 1.05)" class="xl">30-50 cm</text>
<text x="142.8" y="329.7" class="ti">(g)</text>
<text transform="translate(12.3 395.25) rotate(-90)" x="0" y="0" class="yl">DOC (mg/kg)</text>
<line x1="333.27" y1="339" x2="333.27" y2="456.7" class="sep"/>
<line x1="393.03" y1="339" x2="393.03" y2="456.7" class="sep"/>
<path d="M282.83 365.7V355M280.68 355H284.98" stroke="#62A3F5" stroke-width="1.3" fill="none"/>
<path d="M278.23 457.7V365.7H287.43V457.7" stroke="#62A3F5" stroke-width="1.5" fill="#fff"/>
<text transform="translate(282.33 352) scale(0.92 1)" class="let">a</text>
<path d="M296.53 389.4V388.6M294.38 388.6H298.68" stroke="#EE373C" stroke-width="1.3" fill="none"/>
<path d="M291.93 457.7V389.4H301.13V457.7" stroke="#EE373C" stroke-width="1.5" fill="#fff"/>
<text transform="translate(296.03 384.7) scale(0.92 1)" class="let">b</text>
<path d="M310.23 400.5V399.7M308.08 399.7H312.38" stroke="#E5B27A" stroke-width="1.3" fill="none"/>
<path d="M305.63 457.7V400.5H314.83V457.7" stroke="#E5B27A" stroke-width="1.5" fill="#fff"/>
<text transform="translate(309.73 395.7) scale(0.92 1)" class="let">b</text>
<path d="M323.93 408.7V392.7M321.78 392.7H326.08" stroke="#000000" stroke-width="1.3" fill="none"/>
<path d="M319.33 457.7V408.7H328.53V457.7" stroke="#000000" stroke-width="1.65" fill="#fff"/>
<text transform="translate(323.43 388) scale(0.92 1)" class="let">b</text>
<path d="M342.6 370.9V368.6M340.45 368.6H344.75" stroke="#62A3F5" stroke-width="1.3" fill="none"/>
<path d="M338 457.7V370.9H347.2V457.7" stroke="#62A3F5" stroke-width="1.5" fill="#fff"/>
<text transform="translate(342.1 364.7) scale(0.92 1)" class="let">a</text>
<path d="M356.3 403.6V402.2M354.15 402.2H358.45" stroke="#EE373C" stroke-width="1.3" fill="none"/>
<path d="M351.7 457.7V403.6H360.9V457.7" stroke="#EE373C" stroke-width="1.5" fill="#fff"/>
<text transform="translate(355.8 398.6) scale(0.92 1)" class="let">b</text>
<path d="M370 407.4V399.2M367.85 399.2H372.15" stroke="#E5B27A" stroke-width="1.3" fill="none"/>
<path d="M365.4 457.7V407.4H374.6V457.7" stroke="#E5B27A" stroke-width="1.5" fill="#fff"/>
<text transform="translate(369.5 396.6) scale(0.92 1)" class="let">b</text>
<path d="M383.7 410.3V406.9M381.55 406.9H385.85" stroke="#000000" stroke-width="1.3" fill="none"/>
<path d="M379.1 457.7V410.3H388.3V457.7" stroke="#000000" stroke-width="1.65" fill="#fff"/>
<text transform="translate(383.2 403.5) scale(0.92 1)" class="let">b</text>
<path d="M402.37 379.1V375.5M400.22 375.5H404.52" stroke="#62A3F5" stroke-width="1.3" fill="none"/>
<path d="M397.77 457.7V379.1H406.97V457.7" stroke="#62A3F5" stroke-width="1.5" fill="#fff"/>
<text transform="translate(401.87 371.6) scale(0.92 1)" class="let">a</text>
<path d="M416.07 404.9V402.5M413.92 402.5H418.22" stroke="#EE373C" stroke-width="1.3" fill="none"/>
<path d="M411.47 457.7V404.9H420.67V457.7" stroke="#EE373C" stroke-width="1.5" fill="#fff"/>
<text transform="translate(415.57 398.6) scale(0.92 1)" class="let">b</text>
<path d="M429.77 408.7V406.9M427.62 406.9H431.92" stroke="#E5B27A" stroke-width="1.3" fill="none"/>
<path d="M425.17 457.7V408.7H434.37V457.7" stroke="#E5B27A" stroke-width="1.5" fill="#fff"/>
<text transform="translate(429.27 403.5) scale(0.92 1)" class="let">b</text>
<path d="M443.47 408.2V402M441.32 402H445.62" stroke="#000000" stroke-width="1.3" fill="none"/>
<path d="M438.87 457.7V408.2H448.07V457.7" stroke="#000000" stroke-width="1.65" fill="#fff"/>
<text transform="translate(442.97 398.3) scale(0.92 1)" class="let">b</text>
<path d="M273.5 338H452.8V457.7H273.5Z" class="ax"/>
<line x1="270.3" y1="457.7" x2="273.5" y2="457.7" class="ax" style="stroke-linecap:butt"/>
<text x="268.9" y="461.5" class="tk">0</text>
<line x1="270.3" y1="436.02" x2="273.5" y2="436.02" class="ax" style="stroke-linecap:butt"/>
<text x="268.9" y="439.82" class="tk">100</text>
<line x1="270.3" y1="414.33" x2="273.5" y2="414.33" class="ax" style="stroke-linecap:butt"/>
<text x="268.9" y="418.13" class="tk">200</text>
<line x1="270.3" y1="392.65" x2="273.5" y2="392.65" class="ax" style="stroke-linecap:butt"/>
<text x="268.9" y="396.45" class="tk">300</text>
<line x1="270.3" y1="370.96" x2="273.5" y2="370.96" class="ax" style="stroke-linecap:butt"/>
<text x="268.9" y="374.76" class="tk">400</text>
<line x1="270.3" y1="349.28" x2="273.5" y2="349.28" class="ax" style="stroke-linecap:butt"/>
<text x="268.9" y="353.08" class="tk">500</text>
<text transform="translate(301.3 469.4) scale(1 1.05)" class="xl">0-10 cm</text>
<text transform="translate(362.6 469.4) scale(1 1.05)" class="xl">10-30 cm</text>
<text transform="translate(424.45 469.4) scale(1 1.05)" class="xl">30-50 cm</text>
<text x="363.3" y="330.8" class="ti">(h)</text>
<text transform="translate(242.4 395.85) rotate(-90)" x="0" y="0" class="yl">MBC (mg/kg)</text>
<line x1="563.73" y1="339.8" x2="563.73" y2="457.8" class="sep"/>
<line x1="623.47" y1="339.8" x2="623.47" y2="457.8" class="sep"/>
<path d="M513.32 374.7V374.2M511.17 374.2H515.47" stroke="#62A3F5" stroke-width="1.3" fill="none"/>
<path d="M508.72 458.8V374.7H517.92V458.8" stroke="#62A3F5" stroke-width="1.5" fill="#fff"/>
<text transform="translate(512.82 370.3) scale(0.92 1)" class="let">a</text>
<path d="M527.02 389.1V384M524.87 384H529.17" stroke="#EE373C" stroke-width="1.3" fill="none"/>
<path d="M522.42 458.8V389.1H531.62V458.8" stroke="#EE373C" stroke-width="1.5" fill="#fff"/>
<text transform="translate(526.52 380.6) scale(0.92 1)" class="let">b</text>
<path d="M540.72 397.6V393.8M538.57 393.8H542.87" stroke="#E5B27A" stroke-width="1.3" fill="none"/>
<path d="M536.12 458.8V397.6H545.32V458.8" stroke="#E5B27A" stroke-width="1.5" fill="#fff"/>
<text transform="translate(540.22 389.9) scale(0.92 1)" class="let">b</text>
<path d="M554.42 392.7V382.9M552.27 382.9H556.57" stroke="#000000" stroke-width="1.3" fill="none"/>
<path d="M549.82 458.8V392.7H559.02V458.8" stroke="#000000" stroke-width="1.65" fill="#fff"/>
<text transform="translate(553.92 379.3) scale(0.92 1)" class="let">b</text>
<path d="M573.05 377.6V377.1M570.9 377.1H575.2" stroke="#62A3F5" stroke-width="1.3" fill="none"/>
<path d="M568.45 458.8V377.6H577.65V458.8" stroke="#62A3F5" stroke-width="1.5" fill="#fff"/>
<text transform="translate(572.55 371.9) scale(0.92 1)" class="let">a</text>
<path d="M586.75 401.7V400.9M584.6 400.9H588.9" stroke="#EE373C" stroke-width="1.3" fill="none"/>
<path d="M582.15 458.8V401.7H591.35V458.8" stroke="#EE373C" stroke-width="1.5" fill="#fff"/>
<text transform="translate(586.25 396.6) scale(0.92 1)" class="let">c</text>
<path d="M600.45 388.6V382M598.3 382H602.6" stroke="#E5B27A" stroke-width="1.3" fill="none"/>
<path d="M595.85 458.8V388.6H605.05V458.8" stroke="#E5B27A" stroke-width="1.5" fill="#fff"/>
<text transform="translate(599.95 379) scale(0.92 1)" class="let">b</text>
<path d="M614.15 408.7V401.2M612 401.2H616.3" stroke="#000000" stroke-width="1.3" fill="none"/>
<path d="M609.55 458.8V408.7H618.75V458.8" stroke="#000000" stroke-width="1.65" fill="#fff"/>
<text transform="translate(613.65 397.8) scale(0.92 1)" class="let">c</text>
<path d="M632.78 386.9V385.3M630.63 385.3H634.93" stroke="#62A3F5" stroke-width="1.3" fill="none"/>
<path d="M628.18 458.8V386.9H637.38V458.8" stroke="#62A3F5" stroke-width="1.5" fill="#fff"/>
<text transform="translate(632.28 381.9) scale(0.92 1)" class="let">a</text>
<path d="M646.48 389.4V386.6M644.33 386.6H648.63" stroke="#EE373C" stroke-width="1.3" fill="none"/>
<path d="M641.88 458.8V389.4H651.08V458.8" stroke="#EE373C" stroke-width="1.5" fill="#fff"/>
<text transform="translate(645.98 383.1) scale(0.92 1)" class="let">a</text>
<path d="M660.18 414V402M658.03 402H662.33" stroke="#E5B27A" stroke-width="1.3" fill="none"/>
<path d="M655.58 458.8V414H664.78V458.8" stroke="#E5B27A" stroke-width="1.5" fill="#fff"/>
<text transform="translate(659.68 398.6) scale(0.92 1)" class="let">b</text>
<path d="M673.88 422.6V415.1M671.73 415.1H676.03" stroke="#000000" stroke-width="1.3" fill="none"/>
<path d="M669.28 458.8V422.6H678.48V458.8" stroke="#000000" stroke-width="1.65" fill="#fff"/>
<text transform="translate(673.38 410.9) scale(0.92 1)" class="let">b</text>
<path d="M504 338.8H683.2V458.8H504Z" class="ax"/>
<line x1="500.8" y1="458.8" x2="504" y2="458.8" class="ax" style="stroke-linecap:butt"/>
<text x="499.4" y="462.6" class="tk">0</text>
<line x1="500.8" y1="434.8" x2="504" y2="434.8" class="ax" style="stroke-linecap:butt"/>
<text x="499.4" y="438.6" class="tk">20</text>
<line x1="500.8" y1="410.8" x2="504" y2="410.8" class="ax" style="stroke-linecap:butt"/>
<text x="499.4" y="414.6" class="tk">40</text>
<line x1="500.8" y1="386.8" x2="504" y2="386.8" class="ax" style="stroke-linecap:butt"/>
<text x="499.4" y="390.6" class="tk">60</text>
<line x1="500.8" y1="362.8" x2="504" y2="362.8" class="ax" style="stroke-linecap:butt"/>
<text x="499.4" y="366.6" class="tk">80</text>
<line x1="500.8" y1="338.8" x2="504" y2="338.8" class="ax" style="stroke-linecap:butt"/>
<text x="499.4" y="342.6" class="tk">100</text>
<text transform="translate(531.05 470.5) scale(1 1.05)" class="xl">0-10 cm</text>
<text transform="translate(592.75 470.5) scale(1 1.05)" class="xl">10-30 cm</text>
<text transform="translate(654.5 470.5) scale(1 1.05)" class="xl">30-50 cm</text>
<text x="591.3" y="330.8" class="ti">(i)</text>
<text transform="translate(472.4 397.4) rotate(-90)" x="0" y="0" class="yl">MBN (mg/kg)</text>
<line x1="103.97" y1="498.5" x2="103.97" y2="616.4" class="sep"/>
<line x1="163.83" y1="498.5" x2="163.83" y2="616.4" class="sep"/>
<path d="M53.48 523.2V512.1M51.33 512.1H55.63" stroke="#62A3F5" stroke-width="1.3" fill="none"/>
<path d="M48.88 617.4V523.2H58.08V617.4" stroke="#62A3F5" stroke-width="1.5" fill="#fff"/>
<text transform="translate(52.98 507.9) scale(0.92 1)" class="let">a</text>
<path d="M67.18 541.5V537.6M65.03 537.6H69.33" stroke="#EE373C" stroke-width="1.3" fill="none"/>
<path d="M62.58 617.4V541.5H71.78V617.4" stroke="#EE373C" stroke-width="1.5" fill="#fff"/>
<text transform="translate(66.68 532.4) scale(0.92 1)" class="let">b</text>
<path d="M80.88 569.4V563.8M78.73 563.8H83.03" stroke="#E5B27A" stroke-width="1.3" fill="none"/>
<path d="M76.28 617.4V569.4H85.48V617.4" stroke="#E5B27A" stroke-width="1.5" fill="#fff"/>
<text transform="translate(80.38 559.4) scale(0.92 1)" class="let">c</text>
<path d="M94.58 564.5V553.8M92.43 553.8H96.73" stroke="#000000" stroke-width="1.3" fill="none"/>
<path d="M89.98 617.4V564.5H99.18V617.4" stroke="#000000" stroke-width="1.65" fill="#fff"/>
<text transform="translate(94.08 549.9) scale(0.92 1)" class="let">c</text>
<path d="M113.35 545.6V529.3M111.2 529.3H115.5" stroke="#62A3F5" stroke-width="1.3" fill="none"/>
<path d="M108.75 617.4V545.6H117.95V617.4" stroke="#62A3F5" stroke-width="1.5" fill="#fff"/>
<path d="M127.05 566.3V551.9M124.9 551.9H129.2" stroke="#EE373C" stroke-width="1.3" fill="none"/>
<path d="M122.45 617.4V566.3H131.65V617.4" stroke="#EE373C" stroke-width="1.5" fill="#fff"/>
<path d="M140.75 569.5V558.4M138.6 558.4H142.9" stroke="#E5B27A" stroke-width="1.3" fill="none"/>
<path d="M136.15 617.4V569.5H145.35V617.4" stroke="#E5B27A" stroke-width="1.5" fill="#fff"/>
<path d="M154.45 565.3V558.1M152.3 558.1H156.6" stroke="#000000" stroke-width="1.3" fill="none"/>
<path d="M149.85 617.4V565.3H159.05V617.4" stroke="#000000" stroke-width="1.65" fill="#fff"/>
<path d="M173.22 553.8V539.9M171.07 539.9H175.37" stroke="#62A3F5" stroke-width="1.3" fill="none"/>
<path d="M168.62 617.4V553.8H177.82V617.4" stroke="#62A3F5" stroke-width="1.5" fill="#fff"/>
<text transform="translate(172.72 535.7) scale(0.92 1)" class="let">a</text>
<path d="M186.92 575.6V572M184.77 572H189.07" stroke="#EE373C" stroke-width="1.3" fill="none"/>
<path d="M182.32 617.4V575.6H191.52V617.4" stroke="#EE373C" stroke-width="1.5" fill="#fff"/>
<text transform="translate(186.42 567.6) scale(0.92 1)" class="let">b</text>
<path d="M200.62 566.1V562.8M198.47 562.8H202.77" stroke="#E5B27A" stroke-width="1.3" fill="none"/>
<path d="M196.02 617.4V566.1H205.22V617.4" stroke="#E5B27A" stroke-width="1.5" fill="#fff"/>
<text transform="translate(200.12 559.1) scale(0.92 1)" class="let">ab</text>
<path d="M214.32 552.7V535.5M212.17 535.5H216.47" stroke="#000000" stroke-width="1.3" fill="none"/>
<path d="M209.72 617.4V552.7H218.92V617.4" stroke="#000000" stroke-width="1.65" fill="#fff"/>
<text transform="translate(213.82 530.8) scale(0.92 1)" class="let">a</text>
<path d="M44.1 497.5H223.7V617.4H44.1Z" class="ax"/>
<line x1="40.9" y1="617.4" x2="44.1" y2="617.4" class="ax" style="stroke-linecap:butt"/>
<text x="39.5" y="621.2" class="tk">0.0</text>
<line x1="40.9" y1="577.43" x2="44.1" y2="577.43" class="ax" style="stroke-linecap:butt"/>
<text x="39.5" y="581.23" class="tk">0.5</text>
<line x1="40.9" y1="537.47" x2="44.1" y2="537.47" class="ax" style="stroke-linecap:butt"/>
<text x="39.5" y="541.27" class="tk">1.0</text>
<line x1="40.9" y1="497.5" x2="44.1" y2="497.5" class="ax" style="stroke-linecap:butt"/>
<text x="39.5" y="501.3" class="tk">1.5</text>
<text transform="translate(71.9 629.1) scale(1 1.05)" class="xl">0-10 cm</text>
<text transform="translate(133.35 629.1) scale(1 1.05)" class="xl">10-30 cm</text>
<text transform="translate(195.6 629.1) scale(1 1.05)" class="xl">30-50 cm</text>
<text x="139.9" y="489.9" class="ti">(j)</text>
<text transform="translate(16.6 555.5) rotate(-90)" x="0" y="0" class="yl">TP (g/kg)</text>
<line x1="332.83" y1="498.4" x2="332.83" y2="616.3" class="sep"/>
<line x1="392.57" y1="498.4" x2="392.57" y2="616.3" class="sep"/>
<path d="M282.42 534.7V520.4M280.27 520.4H284.57" stroke="#62A3F5" stroke-width="1.3" fill="none"/>
<path d="M277.82 617.3V534.7H287.02V617.3" stroke="#62A3F5" stroke-width="1.5" fill="#fff"/>
<text transform="translate(281.92 516.9) scale(0.92 1)" class="let">a</text>
<path d="M296.12 569.9V559.2M293.97 559.2H298.27" stroke="#EE373C" stroke-width="1.3" fill="none"/>
<path d="M291.52 617.3V569.9H300.72V617.3" stroke="#EE373C" stroke-width="1.5" fill="#fff"/>
<text transform="translate(295.62 555.3) scale(0.92 1)" class="let">b</text>
<path d="M309.82 577.7V568.6M307.67 568.6H311.97" stroke="#E5B27A" stroke-width="1.3" fill="none"/>
<path d="M305.22 617.3V577.7H314.42V617.3" stroke="#E5B27A" stroke-width="1.5" fill="#fff"/>
<text transform="translate(309.32 564) scale(0.92 1)" class="let">bc</text>
<path d="M323.52 595.6V592.3M321.37 592.3H325.67" stroke="#000000" stroke-width="1.3" fill="none"/>
<path d="M318.92 617.3V595.6H328.12V617.3" stroke="#000000" stroke-width="1.65" fill="#fff"/>
<text transform="translate(323.02 588.9) scale(0.92 1)" class="let">c</text>
<path d="M342.15 566.3V554.8M340 554.8H344.3" stroke="#62A3F5" stroke-width="1.3" fill="none"/>
<path d="M337.55 617.3V566.3H346.75V617.3" stroke="#62A3F5" stroke-width="1.5" fill="#fff"/>
<text transform="translate(341.65 549.6) scale(0.92 1)" class="let">a</text>
<path d="M355.85 591.1V581.6M353.7 581.6H358" stroke="#EE373C" stroke-width="1.3" fill="none"/>
<path d="M351.25 617.3V591.1H360.45V617.3" stroke="#EE373C" stroke-width="1.5" fill="#fff"/>
<text transform="translate(355.35 576.9) scale(0.92 1)" class="let">b</text>
<path d="M369.55 593.9V591.5M367.4 591.5H371.7" stroke="#E5B27A" stroke-width="1.3" fill="none"/>
<path d="M364.95 617.3V593.9H374.15V617.3" stroke="#E5B27A" stroke-width="1.5" fill="#fff"/>
<text transform="translate(369.05 587.7) scale(0.92 1)" class="let">b</text>
<path d="M383.25 604.2V602.6M381.1 602.6H385.4" stroke="#000000" stroke-width="1.3" fill="none"/>
<path d="M378.65 617.3V604.2H387.85V617.3" stroke="#000000" stroke-width="1.65" fill="#fff"/>
<text transform="translate(382.75 598.7) scale(0.92 1)" class="let">b</text>
<path d="M401.88 564.1V539.3M399.73 539.3H404.03" stroke="#62A3F5" stroke-width="1.3" fill="none"/>
<path d="M397.28 617.3V564.1H406.48V617.3" stroke="#62A3F5" stroke-width="1.5" fill="#fff"/>
<text transform="translate(401.38 534.4) scale(0.92 1)" class="let">a</text>
<path d="M415.58 589.5V583M413.43 583H417.73" stroke="#EE373C" stroke-width="1.3" fill="none"/>
<path d="M410.98 617.3V589.5H420.18V617.3" stroke="#EE373C" stroke-width="1.5" fill="#fff"/>
<text transform="translate(415.08 578.2) scale(0.92 1)" class="let">b</text>
<path d="M429.28 598.8V595.6M427.13 595.6H431.43" stroke="#E5B27A" stroke-width="1.3" fill="none"/>
<path d="M424.68 617.3V598.8H433.88V617.3" stroke="#E5B27A" stroke-width="1.5" fill="#fff"/>
<text transform="translate(428.78 590.5) scale(0.92 1)" class="let">b</text>
<path d="M442.98 603.7V600.5M440.83 600.5H445.13" stroke="#000000" stroke-width="1.3" fill="none"/>
<path d="M438.38 617.3V603.7H447.58V617.3" stroke="#000000" stroke-width="1.65" fill="#fff"/>
<text transform="translate(442.48 596.2) scale(0.92 1)" class="let">b</text>
<path d="M273.1 497.4H452.3V617.3H273.1Z" class="ax"/>
<line x1="269.9" y1="617.3" x2="273.1" y2="617.3" class="ax" style="stroke-linecap:butt"/>
<text x="268.5" y="621.1" class="tk">0</text>
<line x1="269.9" y1="587.32" x2="273.1" y2="587.32" class="ax" style="stroke-linecap:butt"/>
<text x="268.5" y="591.12" class="tk">5</text>
<line x1="269.9" y1="557.35" x2="273.1" y2="557.35" class="ax" style="stroke-linecap:butt"/>
<text x="268.5" y="561.15" class="tk">10</text>
<line x1="269.9" y1="527.38" x2="273.1" y2="527.38" class="ax" style="stroke-linecap:butt"/>
<text x="268.5" y="531.17" class="tk">15</text>
<line x1="269.9" y1="497.4" x2="273.1" y2="497.4" class="ax" style="stroke-linecap:butt"/>
<text x="268.5" y="501.2" class="tk">20</text>
<text transform="translate(300.45 629) scale(1 1.05)" class="xl">0-10 cm</text>
<text transform="translate(361.9 629) scale(1 1.05)" class="xl">10-30 cm</text>
<text transform="translate(423.9 629) scale(1 1.05)" class="xl">30-50 cm</text>
<text x="362.5" y="491.8" class="ti">(k)</text>
<text transform="translate(247.3 555.9) rotate(-90)" x="0" y="0" class="yl">AP (mg/kg)</text>
<line x1="556.97" y1="503.6" x2="556.97" y2="621" class="sep"/>
<line x1="616.53" y1="503.6" x2="616.53" y2="621" class="sep"/>
<path d="M506.63 566.8V545.2M504.48 545.2H508.78" stroke="#62A3F5" stroke-width="1.3" fill="none"/>
<path d="M502.03 622V566.8H511.23V622" stroke="#62A3F5" stroke-width="1.5" fill="#fff"/>
<path d="M520.33 549.3V543.9M518.18 543.9H522.48" stroke="#EE373C" stroke-width="1.3" fill="none"/>
<path d="M515.73 622V549.3H524.93V622" stroke="#EE373C" stroke-width="1.5" fill="#fff"/>
<path d="M534.03 579.9V566.5M531.88 566.5H536.18" stroke="#E5B27A" stroke-width="1.3" fill="none"/>
<path d="M529.43 622V579.9H538.63V622" stroke="#E5B27A" stroke-width="1.5" fill="#fff"/>
<path d="M547.73 555.9V535.1M545.58 535.1H549.88" stroke="#000000" stroke-width="1.3" fill="none"/>
<path d="M543.13 622V555.9H552.33V622" stroke="#000000" stroke-width="1.65" fill="#fff"/>
<path d="M566.2 560.4V543.1M564.05 543.1H568.35" stroke="#62A3F5" stroke-width="1.3" fill="none"/>
<path d="M561.6 622V560.4H570.8V622" stroke="#62A3F5" stroke-width="1.5" fill="#fff"/>
<path d="M579.9 562.9V556.7M577.75 556.7H582.05" stroke="#EE373C" stroke-width="1.3" fill="none"/>
<path d="M575.3 622V562.9H584.5V622" stroke="#EE373C" stroke-width="1.5" fill="#fff"/>
<path d="M593.6 570.1V567.6M591.45 567.6H595.75" stroke="#E5B27A" stroke-width="1.3" fill="none"/>
<path d="M589 622V570.1H598.2V622" stroke="#E5B27A" stroke-width="1.5" fill="#fff"/>
<path d="M607.3 577.5V571.9M605.15 571.9H609.45" stroke="#000000" stroke-width="1.3" fill="none"/>
<path d="M602.7 622V577.5H611.9V622" stroke="#000000" stroke-width="1.65" fill="#fff"/>
<path d="M625.77 562.1V552.3M623.62 552.3H627.92" stroke="#62A3F5" stroke-width="1.3" fill="none"/>
<path d="M621.17 622V562.1H630.37V622" stroke="#62A3F5" stroke-width="1.5" fill="#fff"/>
<path d="M639.47 552.1V525.6M637.32 525.6H641.62" stroke="#EE373C" stroke-width="1.3" fill="none"/>
<path d="M634.87 622V552.1H644.07V622" stroke="#EE373C" stroke-width="1.5" fill="#fff"/>
<path d="M653.17 570.9V561.9M651.02 561.9H655.32" stroke="#E5B27A" stroke-width="1.3" fill="none"/>
<path d="M648.57 622V570.9H657.77V622" stroke="#E5B27A" stroke-width="1.5" fill="#fff"/>
<path d="M666.87 557.5V544.4M664.72 544.4H669.02" stroke="#000000" stroke-width="1.3" fill="none"/>
<path d="M662.27 622V557.5H671.47V622" stroke="#000000" stroke-width="1.65" fill="#fff"/>
<path d="M497.4 502.6H676.1V622H497.4Z" class="ax"/>
<line x1="494.2" y1="587.89" x2="497.4" y2="587.89" class="ax" style="stroke-linecap:butt"/>
<text x="492.8" y="591.69" class="tk">10</text>
<line x1="494.2" y1="545.24" x2="497.4" y2="545.24" class="ax" style="stroke-linecap:butt"/>
<text x="492.8" y="549.04" class="tk">15</text>
<line x1="494.2" y1="502.6" x2="497.4" y2="502.6" class="ax" style="stroke-linecap:butt"/>
<text x="492.8" y="506.4" class="tk">20</text>
<text transform="translate(524.65 633.7) scale(1 1.05)" class="xl">0-10 cm</text>
<text transform="translate(586.1 633.7) scale(1 1.05)" class="xl">10-30 cm</text>
<text transform="translate(647.85 633.7) scale(1 1.05)" class="xl">30-50 cm</text>
<text x="590.2" y="495.2" class="ti">(l)</text>
<text transform="translate(472.6 561) rotate(-90)" x="0" y="0" class="yl">C/N</text>
<line x1="103.77" y1="661.7" x2="103.77" y2="779.4" class="sep"/>
<line x1="163.53" y1="661.7" x2="163.53" y2="779.4" class="sep"/>
<path d="M53.33 691.1V675.6M51.18 675.6H55.48" stroke="#62A3F5" stroke-width="1.3" fill="none"/>
<path d="M48.73 780.4V691.1H57.93V780.4" stroke="#62A3F5" stroke-width="1.5" fill="#fff"/>
<text transform="translate(52.83 672.2) scale(0.92 1)" class="let">a</text>
<path d="M67.03 734.8V729.1M64.88 729.1H69.18" stroke="#EE373C" stroke-width="1.3" fill="none"/>
<path d="M62.43 780.4V734.8H71.63V780.4" stroke="#EE373C" stroke-width="1.5" fill="#fff"/>
<text transform="translate(66.53 726) scale(0.92 1)" class="let">b</text>
<path d="M80.73 738.6V727.9M78.58 727.9H82.88" stroke="#E5B27A" stroke-width="1.3" fill="none"/>
<path d="M76.13 780.4V738.6H85.33V780.4" stroke="#E5B27A" stroke-width="1.5" fill="#fff"/>
<text transform="translate(80.23 724.9) scale(0.92 1)" class="let">b</text>
<path d="M94.43 762.3V758.7M92.28 758.7H96.58" stroke="#000000" stroke-width="1.3" fill="none"/>
<path d="M89.83 780.4V762.3H99.03V780.4" stroke="#000000" stroke-width="1.65" fill="#fff"/>
<text transform="translate(93.93 756) scale(0.92 1)" class="let">c</text>
<path d="M113.1 700.5V686.2M110.95 686.2H115.25" stroke="#62A3F5" stroke-width="1.3" fill="none"/>
<path d="M108.5 780.4V700.5H117.7V780.4" stroke="#62A3F5" stroke-width="1.5" fill="#fff"/>
<text transform="translate(112.6 682.7) scale(0.92 1)" class="let">a</text>
<path d="M126.8 749.2V741.9M124.65 741.9H128.95" stroke="#EE373C" stroke-width="1.3" fill="none"/>
<path d="M122.2 780.4V749.2H131.4V780.4" stroke="#EE373C" stroke-width="1.5" fill="#fff"/>
<text transform="translate(126.3 738.8) scale(0.92 1)" class="let">b</text>
<path d="M140.5 758.2V748.7M138.35 748.7H142.65" stroke="#E5B27A" stroke-width="1.3" fill="none"/>
<path d="M135.9 780.4V758.2H145.1V780.4" stroke="#E5B27A" stroke-width="1.5" fill="#fff"/>
<text transform="translate(140 747) scale(0.92 1)" class="let">bc</text>
<path d="M154.2 770.8V768.4M152.05 768.4H156.35" stroke="#000000" stroke-width="1.3" fill="none"/>
<path d="M149.6 780.4V770.8H158.8V780.4" stroke="#000000" stroke-width="1.65" fill="#fff"/>
<text transform="translate(153.7 765.8) scale(0.92 1)" class="let">c</text>
<path d="M172.87 713.5V696.9M170.72 696.9H175.02" stroke="#62A3F5" stroke-width="1.3" fill="none"/>
<path d="M168.27 780.4V713.5H177.47V780.4" stroke="#62A3F5" stroke-width="1.5" fill="#fff"/>
<text transform="translate(172.37 693.3) scale(0.92 1)" class="let">a</text>
<path d="M186.57 759.9V755.8M184.42 755.8H188.72" stroke="#EE373C" stroke-width="1.3" fill="none"/>
<path d="M181.97 780.4V759.9H191.17V780.4" stroke="#EE373C" stroke-width="1.5" fill="#fff"/>
<text transform="translate(186.07 754) scale(0.92 1)" class="let">b</text>
<path d="M200.27 770.5V767.6M198.12 767.6H202.42" stroke="#E5B27A" stroke-width="1.3" fill="none"/>
<path d="M195.67 780.4V770.5H204.87V780.4" stroke="#E5B27A" stroke-width="1.5" fill="#fff"/>
<text transform="translate(199.77 765.8) scale(0.92 1)" class="let">b</text>
<path d="M213.97 776.2V775.4M211.82 775.4H216.12" stroke="#000000" stroke-width="1.3" fill="none"/>
<path d="M209.37 780.4V776.2H218.57V780.4" stroke="#000000" stroke-width="1.65" fill="#fff"/>
<text transform="translate(213.47 772) scale(0.92 1)" class="let">b</text>
<path d="M44 660.7H223.3V780.4H44Z" class="ax"/>
<line x1="40.8" y1="780.4" x2="44" y2="780.4" class="ax" style="stroke-linecap:butt"/>
<text x="39.4" y="784.2" class="tk">0</text>
<line x1="40.8" y1="730.52" x2="44" y2="730.52" class="ax" style="stroke-linecap:butt"/>
<text x="39.4" y="734.32" class="tk">5</text>
<line x1="40.8" y1="680.65" x2="44" y2="680.65" class="ax" style="stroke-linecap:butt"/>
<text x="39.4" y="684.45" class="tk">10</text>
<text transform="translate(71.35 792.1) scale(1 1.05)" class="xl">0-10 cm</text>
<text transform="translate(132.95 792.1) scale(1 1.05)" class="xl">10-30 cm</text>
<text transform="translate(194.9 792.1) scale(1 1.05)" class="xl">30-50 cm</text>
<text x="139.8" y="652.7" class="ti">(m)</text>
<text transform="translate(19.6 718.55) rotate(-90)" x="0" y="0" class="yl">N/P</text>
<line x1="333.9" y1="662.5" x2="333.9" y2="780" class="sep"/>
<line x1="393.5" y1="662.5" x2="393.5" y2="780" class="sep"/>
<path d="M283.55 680.5V675.6M281.4 675.6H285.7" stroke="#62A3F5" stroke-width="1.3" fill="none"/>
<path d="M278.95 781V680.5H288.15V781" stroke="#62A3F5" stroke-width="1.5" fill="#fff"/>
<text transform="translate(283.05 673.8) scale(0.92 1)" class="let">a</text>
<path d="M297.25 719.8V709.9M295.1 709.9H299.4" stroke="#EE373C" stroke-width="1.3" fill="none"/>
<path d="M292.65 781V719.8H301.85V781" stroke="#EE373C" stroke-width="1.5" fill="#fff"/>
<text transform="translate(296.75 707.7) scale(0.92 1)" class="let">b</text>
<path d="M310.95 739.9V734.8M308.8 734.8H313.1" stroke="#E5B27A" stroke-width="1.3" fill="none"/>
<path d="M306.35 781V739.9H315.55V781" stroke="#E5B27A" stroke-width="1.5" fill="#fff"/>
<text transform="translate(310.45 732.2) scale(0.92 1)" class="let">c</text>
<path d="M324.65 757.7V749.2M322.5 749.2H326.8" stroke="#000000" stroke-width="1.3" fill="none"/>
<path d="M320.05 781V757.7H329.25V781" stroke="#000000" stroke-width="1.65" fill="#fff"/>
<text transform="translate(324.15 746.2) scale(0.92 1)" class="let">d</text>
<path d="M343.15 684.1V669.4M341 669.4H345.3" stroke="#62A3F5" stroke-width="1.3" fill="none"/>
<path d="M338.55 781V684.1H347.75V781" stroke="#62A3F5" stroke-width="1.5" fill="#fff"/>
<text transform="translate(342.65 668.9) scale(0.92 1)" class="let">a</text>
<path d="M356.85 744V735.6M354.7 735.6H359" stroke="#EE373C" stroke-width="1.3" fill="none"/>
<path d="M352.25 781V744H361.45V781" stroke="#EE373C" stroke-width="1.5" fill="#fff"/>
<text transform="translate(356.35 733.9) scale(0.92 1)" class="let">b</text>
<path d="M370.55 756.6V746.3M368.4 746.3H372.7" stroke="#E5B27A" stroke-width="1.3" fill="none"/>
<path d="M365.95 781V756.6H375.15V781" stroke="#E5B27A" stroke-width="1.5" fill="#fff"/>
<text transform="translate(370.05 743.7) scale(0.92 1)" class="let">bc</text>
<path d="M384.25 770.8V767.7M382.1 767.7H386.4" stroke="#000000" stroke-width="1.3" fill="none"/>
<path d="M379.65 781V770.8H388.85V781" stroke="#000000" stroke-width="1.65" fill="#fff"/>
<text transform="translate(383.75 765.8) scale(0.92 1)" class="let">c</text>
<path d="M402.75 702.1V688.7M400.6 688.7H404.9" stroke="#62A3F5" stroke-width="1.3" fill="none"/>
<path d="M398.15 781V702.1H407.35V781" stroke="#62A3F5" stroke-width="1.5" fill="#fff"/>
<text transform="translate(402.25 685.6) scale(0.92 1)" class="let">a</text>
<path d="M416.45 755V748.9M414.3 748.9H418.6" stroke="#EE373C" stroke-width="1.3" fill="none"/>
<path d="M411.85 781V755H421.05V781" stroke="#EE373C" stroke-width="1.5" fill="#fff"/>
<text transform="translate(415.95 747) scale(0.92 1)" class="let">b</text>
<path d="M430.15 770.8V768.5M428 768.5H432.3" stroke="#E5B27A" stroke-width="1.3" fill="none"/>
<path d="M425.55 781V770.8H434.75V781" stroke="#E5B27A" stroke-width="1.5" fill="#fff"/>
<text transform="translate(429.65 765.8) scale(0.92 1)" class="let">c</text>
<path d="M443.85 775.9V775.4M441.7 775.4H446" stroke="#000000" stroke-width="1.3" fill="none"/>
<path d="M439.25 781V775.9H448.45V781" stroke="#000000" stroke-width="1.65" fill="#fff"/>
<text transform="translate(443.35 771.5) scale(0.92 1)" class="let">c</text>
<path d="M274.3 661.5H453.1V781H274.3Z" class="ax"/>
<line x1="271.1" y1="781" x2="274.3" y2="781" class="ax" style="stroke-linecap:butt"/>
<text x="269.7" y="784.8" class="tk">0</text>
<line x1="271.1" y1="735.04" x2="274.3" y2="735.04" class="ax" style="stroke-linecap:butt"/>
<text x="269.7" y="738.84" class="tk">50</text>
<line x1="271.1" y1="689.08" x2="274.3" y2="689.08" class="ax" style="stroke-linecap:butt"/>
<text x="269.7" y="692.88" class="tk">100</text>
<text transform="translate(301.3 792.7) scale(1 1.05)" class="xl">0-10 cm</text>
<text transform="translate(362.7 792.7) scale(1 1.05)" class="xl">10-30 cm</text>
<text transform="translate(424.45 792.7) scale(1 1.05)" class="xl">30-50 cm</text>
<text x="366.4" y="655" class="ti">(n)</text>
<text transform="translate(242.9 720) rotate(-90)" x="0" y="0" class="yl">C/P</text>
<rect x="506.7" y="669.2" width="20.3" height="8.2" stroke="#62A3F5" stroke-width="2.8" fill="#fff"/>
<text x="538.6" y="677.9" class="lg">WM</text>
<rect x="506.7" y="691.3" width="20.3" height="8.2" stroke="#EE373C" stroke-width="2.8" fill="#fff"/>
<text x="538.6" y="700" class="lg">LD</text>
<rect x="506.7" y="712.5" width="20.3" height="8.2" stroke="#E5B27A" stroke-width="2.8" fill="#fff"/>
<text x="538.6" y="721.2" class="lg">MD</text>
<rect x="506.7" y="733.6" width="20.3" height="8.2" stroke="#000000" stroke-width="2.8" fill="#fff"/>
<text x="538.6" y="742.3" class="lg">SD</text>
</svg>
</body></html>
